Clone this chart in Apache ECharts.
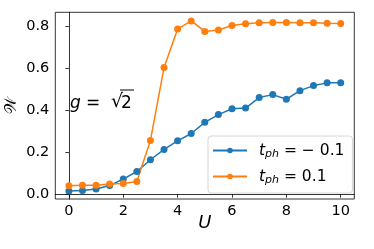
<!DOCTYPE html>
<html><head><meta charset="utf-8">
<script src="https://cdn.jsdelivr.net/npm/echarts@6/dist/echarts.min.js"></script>
<style>html,body{margin:0;padding:0;background:#fff}#c{width:374px;height:249px}</style>
</head><body><div id="c"></div>
<script>
const U = [0,0.5,1,1.5,2,2.5,3,3.5,4,4.5,5,5.5,6,6.5,7,7.5,8,8.5,9,9.5,10];
const W_neg = [0.015,0.018,0.025,0.041,0.072,0.108,0.164,0.213,0.254,0.289,0.342,0.379,0.407,0.410,0.460,0.474,0.452,0.493,0.517,0.530,0.530];
const W_pos = [0.040,0.043,0.043,0.048,0.051,0.060,0.256,0.603,0.786,0.825,0.775,0.782,0.803,0.811,0.816,0.818,0.818,0.816,0.816,0.814,0.813];
const xTicks = [0,2,4,6,8,10];
const yTicks = [0,0.2,0.4,0.6,0.8];
const seriesNames = ['t_ph=-0.1','t_ph=0.1'];
const legendValues = ['\u2212 0.1','0.1'];

const FONT = 'DejaVu Sans';
const chart = echarts.init(document.getElementById('c'), null, {renderer:'canvas'});
const mk = (arr)=>U.map((u,i)=>[u,arr[i]]);
chart.setOption({
  animation:false,
  textStyle:{fontFamily:FONT},
  grid:{left:55.3,right:19.7,top:12.3,bottom:50,show:true,borderColor:'#000',borderWidth:0.8,containLabel:false,outerBoundsMode:'none'},
  xAxis:{type:'value',min:-0.5,max:10.5,
    name:'U',nameLocation:'middle',nameGap:24,nameMoveOverlap:false,
    nameTextStyle:{fontFamily:FONT,fontStyle:'italic',fontSize:18,color:'#000',verticalAlign:'middle'},
    axisLine:{show:true,lineStyle:{color:'#000',width:0.8}},
    axisTick:{show:true,length:3.5,lineStyle:{color:'#000',width:0.8},customValues:xTicks},
    axisLabel:{color:'#000',fontSize:14.5,margin:5,customValues:xTicks,formatter:v=>String(v)},
    splitLine:{show:false}},
  yAxis:{type:'value',min:-0.023,max:0.866,
    name:'\uD835\uDCB2',nameLocation:'middle',nameGap:43,nameRotate:90,nameMoveOverlap:false,
    nameTextStyle:{fontFamily:FONT,fontSize:16,color:'#000',verticalAlign:'middle'},
    axisLine:{show:true,lineStyle:{color:'#000',width:0.8}},
    axisTick:{show:true,length:3.5,lineStyle:{color:'#000',width:0.8},customValues:yTicks},
    axisLabel:{color:'#000',fontSize:14.5,margin:6,customValues:yTicks,formatter:v=>v.toFixed(1)},
    splitLine:{show:false}},
  legend:{
    orient:'vertical',left:208,top:136,
    backgroundColor:'#fff',borderColor:'#ccc',borderWidth:0.8,borderRadius:3,
    padding:[5,8,7,4],itemGap:7,itemWidth:34,itemHeight:7,
    data:seriesNames,
    formatter:(name)=>{const i=seriesNames.indexOf(name);return '{t|t}{s|ph}{r| = '+legendValues[i]+'}';},
    textStyle:{fontFamily:FONT,color:'#000',fontSize:15.5,
      rich:{t:{fontFamily:FONT,fontStyle:'italic',fontSize:15.5,color:'#000',lineHeight:18,padding:[0,0,0,7]},
            s:{fontFamily:FONT,fontStyle:'italic',fontSize:11,color:'#000',padding:[8,0,0,0],lineHeight:18},
            r:{fontFamily:FONT,fontSize:15.5,color:'#000',lineHeight:18}}}
  },
  series:[
    {name:seriesNames[0],type:'line',data:mk(W_neg),symbol:'circle',symbolSize:7,
     itemStyle:{color:'#1f77b4'},lineStyle:{color:'#1f77b4',width:1.5}},
    {name:seriesNames[1],type:'line',data:mk(W_pos),symbol:'circle',symbolSize:7,
     itemStyle:{color:'#ff7f0e'},lineStyle:{color:'#ff7f0e',width:1.5}}
  ],
  graphic:[
    {type:'text',x:70,y:104,style:{text:'g',fontFamily:FONT,fontStyle:'italic',fontSize:17,fill:'#000',verticalAlign:'middle'}},
    {type:'text',x:86,y:104,style:{text:'=',fontFamily:FONT,fontSize:17,fill:'#000',verticalAlign:'middle'}},
    {type:'text',x:111,y:102,style:{text:'\u221A',fontFamily:FONT,fontSize:19,fill:'#000',verticalAlign:'middle'}},
    {type:'text',x:121,y:104,style:{text:'2',fontFamily:FONT,fontSize:17,fill:'#000',verticalAlign:'middle'}},
    {type:'line',shape:{x1:120,y1:90,x2:134,y2:90},style:{stroke:'#000',lineWidth:1}}
  ]
});
</script></body></html>
